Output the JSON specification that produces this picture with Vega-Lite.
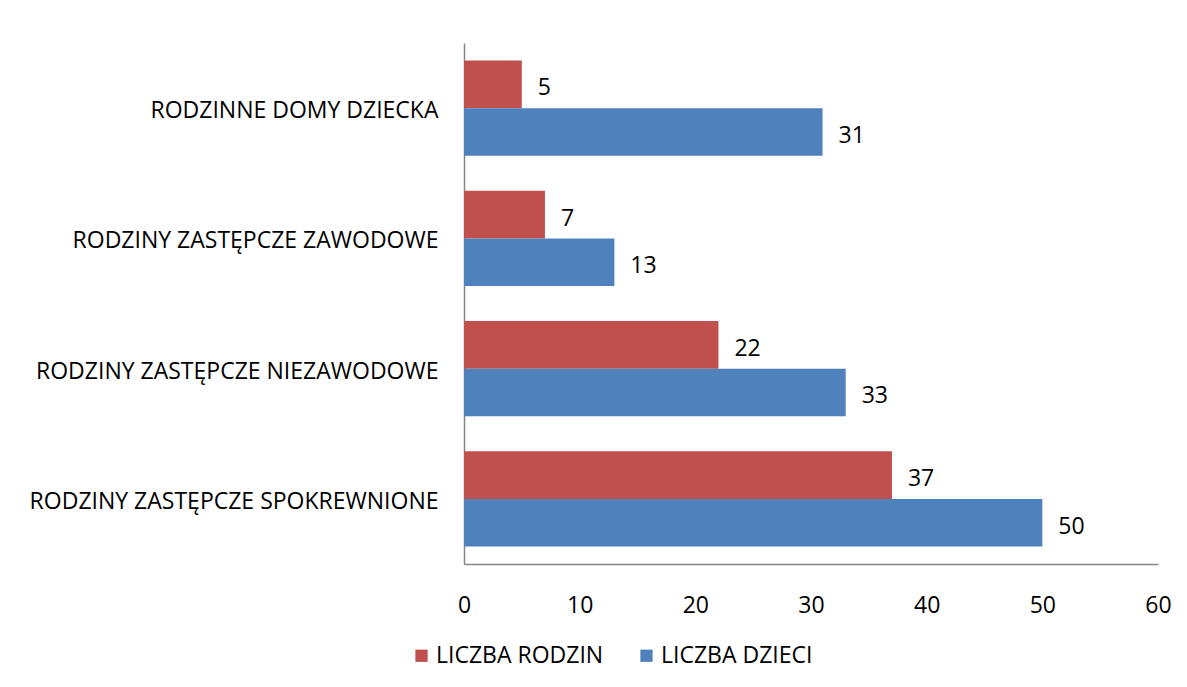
{
  "$schema": "https://vega.github.io/schema/vega-lite/v6.json",
  "width": 694,
  "height": 521,
  "autosize": "none",
  "padding": {"left": 464, "top": 43, "right": 29, "bottom": 123},
  "background": "white",
  "config": {"view": {"stroke": null}, "font": "Open Sans"},
  "data": {
    "values": [
      {"kategoria": "RODZINNE DOMY DZIECKA", "seria": "LICZBA RODZIN", "wartosc": 5},
      {"kategoria": "RODZINNE DOMY DZIECKA", "seria": "LICZBA DZIECI", "wartosc": 31},
      {"kategoria": "RODZINY ZASTĘPCZE ZAWODOWE", "seria": "LICZBA RODZIN", "wartosc": 7},
      {"kategoria": "RODZINY ZASTĘPCZE ZAWODOWE", "seria": "LICZBA DZIECI", "wartosc": 13},
      {"kategoria": "RODZINY ZASTĘPCZE NIEZAWODOWE", "seria": "LICZBA RODZIN", "wartosc": 22},
      {"kategoria": "RODZINY ZASTĘPCZE NIEZAWODOWE", "seria": "LICZBA DZIECI", "wartosc": 33},
      {"kategoria": "RODZINY ZASTĘPCZE SPOKREWNIONE", "seria": "LICZBA RODZIN", "wartosc": 37},
      {"kategoria": "RODZINY ZASTĘPCZE SPOKREWNIONE", "seria": "LICZBA DZIECI", "wartosc": 50}
    ]
  },
  "encoding": {
    "y": {
      "field": "kategoria",
      "type": "nominal",
      "sort": ["RODZINNE DOMY DZIECKA", "RODZINY ZASTĘPCZE ZAWODOWE", "RODZINY ZASTĘPCZE NIEZAWODOWE", "RODZINY ZASTĘPCZE SPOKREWNIONE"],
      "scale": {"paddingInner": 0, "paddingOuter": 0},
      "axis": {"title": null, "ticks": false, "domainColor": "#868686", "domainWidth": 1.5, "labelFontSize": 23, "labelPadding": 26, "labelOffset": 3, "labelColor": "#000000", "labelLimit": 0}
    },
    "yOffset": {
      "field": "seria",
      "type": "nominal",
      "sort": ["LICZBA RODZIN", "LICZBA DZIECI"],
      "scale": {"paddingOuter": 0.37, "paddingInner": 0}
    },
    "x": {
      "field": "wartosc",
      "type": "quantitative",
      "scale": {"domain": [0, 60], "nice": false},
      "axis": {"title": null, "values": [0, 10, 20, 30, 40, 50, 60], "grid": false, "ticks": false, "domainColor": "#868686", "domainWidth": 1.5, "labelFontSize": 23, "labelPadding": 30, "labelColor": "#000000", "labelFlush": false}
    }
  },
  "layer": [
    {
      "mark": {"type": "bar"},
      "encoding": {
        "color": {
          "field": "seria",
          "type": "nominal",
          "sort": ["LICZBA RODZIN", "LICZBA DZIECI"],
          "scale": {"domain": ["LICZBA RODZIN", "LICZBA DZIECI"], "range": ["#C0504D", "#4F81BD"]},
          "legend": {
            "title": null,
            "orient": "none",
            "direction": "horizontal",
            "legendX": -54,
            "legendY": 601,
            "symbolType": "square",
            "symbolSize": 150,
            "symbolStrokeWidth": 0,
            "symbolOpacity": 1,
            "labelFontSize": 23,
            "labelColor": "#000000",
            "labelOffset": 3,
            "columnPadding": 31,
            "labelLimit": 0
          }
        }
      }
    },
    {
      "mark": {"type": "text", "align": "left", "baseline": "middle", "dx": 16, "dy": 4, "fontSize": 23, "color": "#000000"},
      "encoding": {"text": {"field": "wartosc", "type": "quantitative"}}
    }
  ]
}
